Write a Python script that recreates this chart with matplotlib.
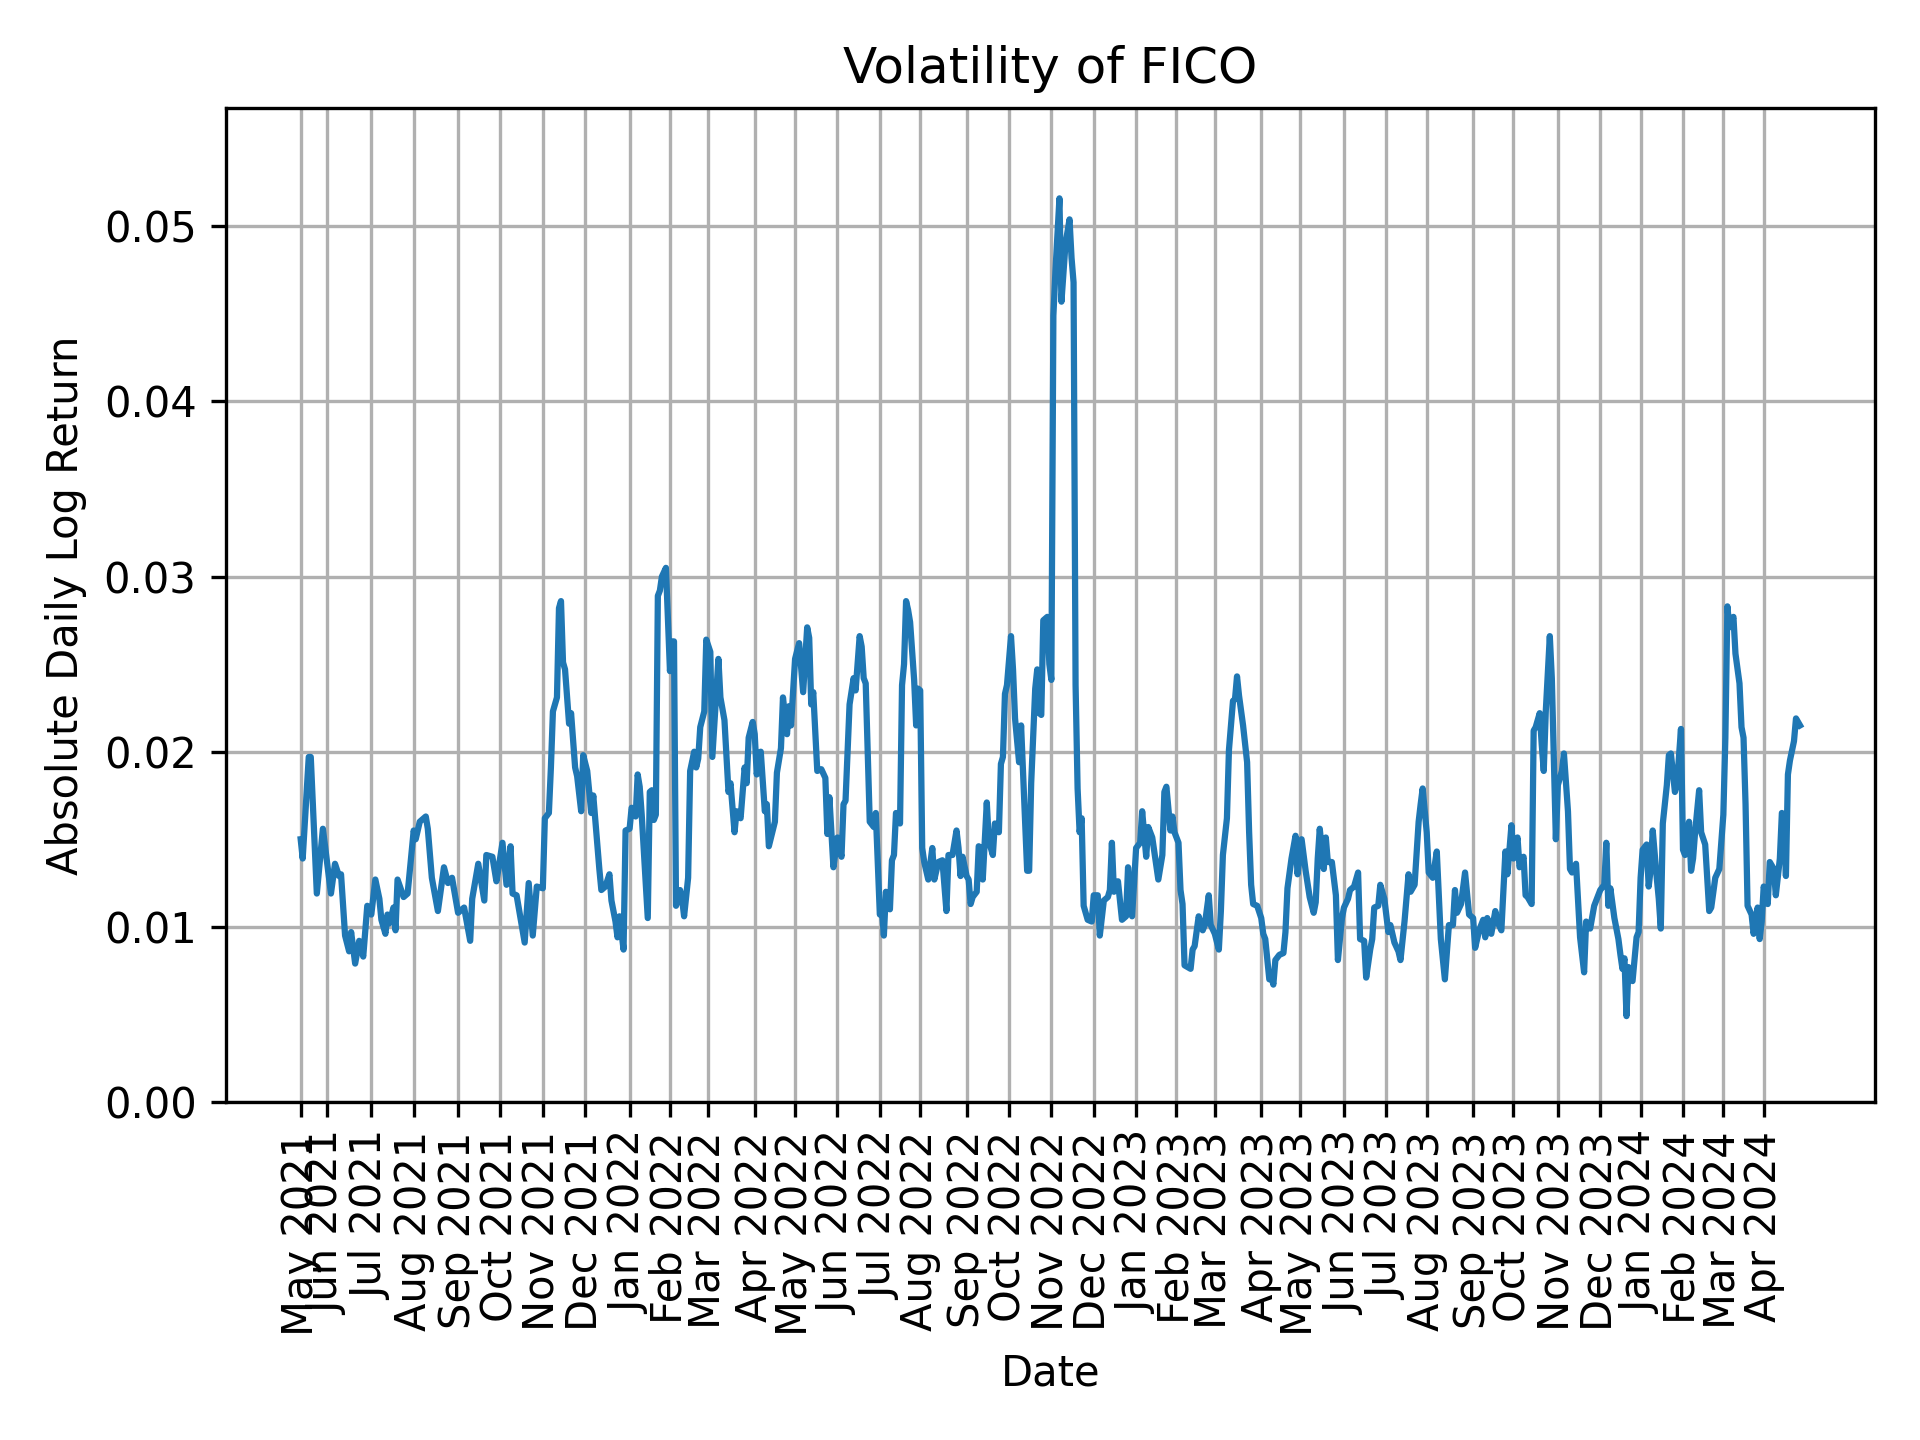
import matplotlib
matplotlib.use('Agg')
import matplotlib.pyplot as plt
import numpy as np
import pandas as pd

# trading-day index (0 = first day in the data) and the volatility
day_idx = [0, 1, 4, 5, 8, 11, 15, 17, 19, 20, 22, 24, 25, 27, 29, 31, 33, 35, 37, 39,
           40, 42, 43, 44, 46, 47, 48, 51, 53, 56, 57, 59, 62, 63, 65, 68, 71, 73, 75, 78,
           81, 84, 85, 88, 91, 92, 95, 97, 98, 100, 102, 104, 105, 107, 111, 113, 115, 117, 120, 121,
           123, 124, 125, 127, 128, 129, 130, 131, 133, 134, 136, 137, 139, 140, 142, 144, 145, 148, 149, 151,
           153, 154, 156, 157, 158, 160, 161, 163, 164, 166, 167, 168, 169, 172, 173, 174, 175, 176, 177, 178,
           179, 181, 183, 184, 185, 186, 188, 189, 190, 192, 193, 195, 196, 197, 198, 200, 201, 203, 204, 206,
           207, 208, 210, 212, 213, 215, 216, 218, 220, 221, 222, 224, 225, 226, 228, 230, 231, 232, 235, 236,
           238, 239, 241, 242, 243, 245, 247, 249, 251, 252, 253, 254, 256, 258, 260, 261, 262, 264, 266, 268,
           269, 270, 272, 274, 275, 277, 278, 279, 280, 282, 284, 285, 287, 288, 289, 290, 292, 293, 294, 295,
           297, 298, 299, 300, 301, 302, 304, 305, 306, 307, 308, 309, 311, 313, 314, 316, 318, 320, 321, 323,
           325, 326, 327, 328, 330, 331, 332, 333, 335, 336, 337, 338, 340, 341, 343, 344, 346, 347, 348, 349,
           350, 352, 353, 354, 356, 357, 359, 360, 361, 362, 364, 365, 366, 367, 368, 370, 371, 372, 373, 374,
           376, 377, 379, 381, 382, 383, 384, 385, 386, 387, 388, 390, 392, 393, 395, 396, 398, 400, 401, 402,
           403, 405, 407, 409, 410, 412, 414, 416, 417, 419, 420, 422, 425, 427, 428, 429, 431, 432, 433, 435,
           436, 437, 438, 441, 442, 443, 445, 447, 448, 450, 451, 453, 455, 456, 457, 459, 460, 462, 463, 464,
           465, 467, 469, 470, 471, 472, 474, 476, 477, 478, 480, 481, 482, 483, 485, 487, 488, 489, 491, 493,
           494, 496, 498, 500, 502, 503, 504, 505, 507, 508, 509, 511, 513, 514, 516, 517, 519, 520, 522, 524,
           525, 527, 528, 530, 531, 532, 534, 535, 537, 539, 540, 542, 544, 545, 547, 549, 550, 552, 554, 555,
           556, 558, 559, 561, 563, 565, 567, 569, 571, 572, 573, 575, 577, 579, 581, 582, 584, 586, 587, 588,
           590, 592, 593, 595, 597, 598, 600, 601, 603, 604, 606, 607, 608, 610, 611, 612, 614, 615, 616, 617,
           619, 620, 622, 623, 625, 626, 628, 629, 630, 632, 634, 636, 637, 639, 641, 643, 644, 646, 647, 648,
           649, 651, 653, 654, 655, 656, 657, 658, 659, 660, 662, 663, 664, 665, 667, 668, 669, 670, 672, 673,
           674, 675, 677, 678, 679, 681, 682, 684, 685, 686, 688, 689, 690, 691, 693, 694, 696, 698, 699, 701,
           703, 705, 706, 707, 708, 710, 711, 713, 714, 715, 716, 717, 719, 720, 722, 723, 724, 725, 727, 728,
           730, 731, 733, 734, 735, 736, 737, 738, 740, 741, 743]

vol = [0.0150, 0.0139, 0.0197, 0.0197, 0.0119, 0.0156, 0.0119, 0.0136, 0.0129, 0.0130, 0.0095, 0.0086, 0.0097, 0.0079, 0.0092, 0.0083, 0.0112, 0.0107, 0.0127, 0.0116,
       0.0104, 0.0096, 0.0107, 0.0102, 0.0111, 0.0098, 0.0127, 0.0117, 0.0119, 0.0155, 0.0150, 0.0160, 0.0163, 0.0156, 0.0128, 0.0109, 0.0134, 0.0125, 0.0128, 0.0108,
       0.0111, 0.0092, 0.0116, 0.0136, 0.0115, 0.0141, 0.0140, 0.0126, 0.0133, 0.0148, 0.0124, 0.0146, 0.0119, 0.0118, 0.0091, 0.0125, 0.0095, 0.0123, 0.0122, 0.0162,
       0.0165, 0.0191, 0.0223, 0.0231, 0.0282, 0.0286, 0.0251, 0.0247, 0.0216, 0.0222, 0.0191, 0.0186, 0.0166, 0.0198, 0.0189, 0.0165, 0.0175, 0.0133, 0.0121, 0.0123,
       0.0130, 0.0115, 0.0103, 0.0094, 0.0106, 0.0087, 0.0155, 0.0156, 0.0168, 0.0163, 0.0187, 0.0180, 0.0164, 0.0105, 0.0177, 0.0178, 0.0161, 0.0164, 0.0289, 0.0292,
       0.0300, 0.0305, 0.0246, 0.0263, 0.0263, 0.0112, 0.0121, 0.0116, 0.0106, 0.0128, 0.0189, 0.0200, 0.0191, 0.0196, 0.0214, 0.0223, 0.0264, 0.0257, 0.0197, 0.0235,
       0.0253, 0.0231, 0.0218, 0.0177, 0.0182, 0.0154, 0.0166, 0.0162, 0.0191, 0.0182, 0.0208, 0.0217, 0.0210, 0.0187, 0.0200, 0.0166, 0.0170, 0.0146, 0.0160, 0.0188,
       0.0202, 0.0231, 0.0210, 0.0226, 0.0215, 0.0253, 0.0262, 0.0234, 0.0271, 0.0265, 0.0227, 0.0234, 0.0189, 0.0190, 0.0185, 0.0153, 0.0174, 0.0134, 0.0151, 0.0140,
       0.0170, 0.0172, 0.0227, 0.0242, 0.0235, 0.0266, 0.0260, 0.0242, 0.0239, 0.0160, 0.0157, 0.0165, 0.0107, 0.0110, 0.0095, 0.0120, 0.0110, 0.0138, 0.0141, 0.0165,
       0.0159, 0.0238, 0.0250, 0.0286, 0.0281, 0.0274, 0.0241, 0.0215, 0.0236, 0.0235, 0.0145, 0.0137, 0.0127, 0.0145, 0.0127, 0.0137, 0.0138, 0.0109, 0.0141, 0.0141,
       0.0155, 0.0145, 0.0129, 0.0140, 0.0129, 0.0127, 0.0113, 0.0117, 0.0120, 0.0146, 0.0145, 0.0127, 0.0171, 0.0149, 0.0141, 0.0159, 0.0154, 0.0193, 0.0197, 0.0233,
       0.0238, 0.0266, 0.0247, 0.0219, 0.0194, 0.0215, 0.0160, 0.0132, 0.0132, 0.0182, 0.0236, 0.0247, 0.0222, 0.0221, 0.0275, 0.0277, 0.0250, 0.0241, 0.0449, 0.0474,
       0.0516, 0.0457, 0.0490, 0.0504, 0.0482, 0.0468, 0.0238, 0.0179, 0.0154, 0.0162, 0.0112, 0.0104, 0.0103, 0.0118, 0.0118, 0.0095, 0.0115, 0.0117, 0.0121, 0.0148,
       0.0120, 0.0126, 0.0104, 0.0106, 0.0134, 0.0106, 0.0145, 0.0148, 0.0166, 0.0140, 0.0157, 0.0151, 0.0127, 0.0141, 0.0177, 0.0180, 0.0155, 0.0163, 0.0154, 0.0148,
       0.0121, 0.0113, 0.0078, 0.0076, 0.0087, 0.0089, 0.0106, 0.0098, 0.0101, 0.0118, 0.0101, 0.0096, 0.0087, 0.0109, 0.0141, 0.0162, 0.0201, 0.0229, 0.0230, 0.0243,
       0.0232, 0.0215, 0.0194, 0.0154, 0.0124, 0.0113, 0.0112, 0.0105, 0.0096, 0.0093, 0.0070, 0.0072, 0.0067, 0.0081, 0.0084, 0.0085, 0.0097, 0.0122, 0.0139, 0.0152,
       0.0130, 0.0150, 0.0132, 0.0117, 0.0108, 0.0114, 0.0139, 0.0156, 0.0133, 0.0151, 0.0137, 0.0137, 0.0118, 0.0081, 0.0105, 0.0111, 0.0116, 0.0121, 0.0123, 0.0131,
       0.0093, 0.0092, 0.0071, 0.0087, 0.0093, 0.0111, 0.0112, 0.0124, 0.0116, 0.0097, 0.0101, 0.0091, 0.0086, 0.0081, 0.0103, 0.0130, 0.0120, 0.0124, 0.0160, 0.0170,
       0.0179, 0.0154, 0.0131, 0.0128, 0.0143, 0.0093, 0.0070, 0.0101, 0.0101, 0.0121, 0.0108, 0.0113, 0.0131, 0.0107, 0.0105, 0.0088, 0.0098, 0.0104, 0.0094, 0.0105,
       0.0096, 0.0109, 0.0103, 0.0098, 0.0143, 0.0130, 0.0158, 0.0139, 0.0151, 0.0134, 0.0140, 0.0118, 0.0117, 0.0113, 0.0212, 0.0214, 0.0222, 0.0204, 0.0189, 0.0223,
       0.0266, 0.0242, 0.0150, 0.0181, 0.0189, 0.0199, 0.0166, 0.0133, 0.0131, 0.0136, 0.0094, 0.0074, 0.0103, 0.0099, 0.0112, 0.0118, 0.0121, 0.0124, 0.0148, 0.0112,
       0.0122, 0.0105, 0.0093, 0.0084, 0.0076, 0.0082, 0.0049, 0.0077, 0.0070, 0.0069, 0.0094, 0.0097, 0.0128, 0.0144, 0.0147, 0.0123, 0.0133, 0.0155, 0.0128, 0.0116,
       0.0099, 0.0159, 0.0181, 0.0198, 0.0199, 0.0177, 0.0181, 0.0213, 0.0144, 0.0141, 0.0160, 0.0132, 0.0139, 0.0154, 0.0178, 0.0154, 0.0147, 0.0109, 0.0111, 0.0128,
       0.0133, 0.0164, 0.0208, 0.0283, 0.0271, 0.0277, 0.0256, 0.0239, 0.0214, 0.0208, 0.0170, 0.0112, 0.0107, 0.0096, 0.0111, 0.0093, 0.0103, 0.0123, 0.0113, 0.0137,
       0.0133, 0.0118, 0.0139, 0.0165, 0.0164, 0.0129, 0.0187, 0.0195, 0.0206, 0.0219, 0.0215]

# NYSE holidays inside the period
holidays = ['2021-05-31', '2021-07-05', '2021-09-06', '2021-11-25', '2021-12-24',
            '2022-01-17', '2022-02-21', '2022-04-15', '2022-05-30', '2022-06-20', '2022-07-04',
            '2022-09-05', '2022-11-24', '2022-12-26',
            '2023-01-02', '2023-01-16', '2023-02-20', '2023-04-07', '2023-05-29', '2023-06-19',
            '2023-07-04', '2023-09-04', '2023-11-23', '2023-12-25',
            '2024-01-01', '2024-01-15', '2024-02-19', '2024-03-29']

dates = pd.bdate_range('2021-05-12', periods=max(day_idx) + 1, freq='C', holidays=holidays)

# tick on the first day and on the first trading day of every month
tick_pos = [0]
for i in range(1, len(dates)):
    if dates[i].month != dates[i - 1].month:
        tick_pos.append(i)
tick_labels = [dates[i].strftime('%b %Y') for i in tick_pos]

fig, ax = plt.subplots(figsize=(6.4, 4.8), dpi=300)
ax.plot(day_idx, vol)
ax.set_xticks(tick_pos)
ax.set_xticklabels(tick_labels, rotation=90)
ax.set_ylim(0, max(vol) * 1.1)
ax.grid(True)
ax.set_title('Volatility of FICO')
ax.set_xlabel('Date')
ax.set_ylabel('Absolute Daily Log Return')
fig.tight_layout()
fig.savefig('out.png')
